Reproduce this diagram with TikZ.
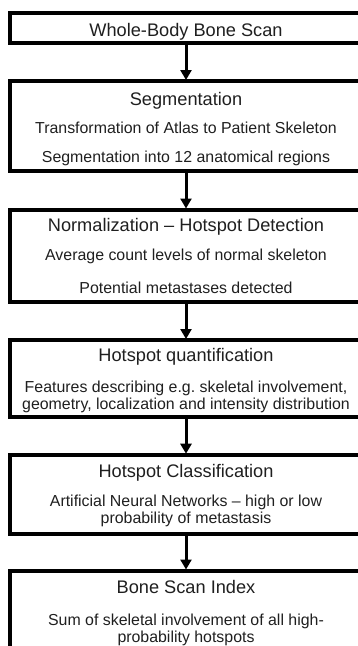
\documentclass[tikz,border=0pt]{standalone}
\usepackage{fontspec}
\setmainfont{Liberation Sans}
\usetikzlibrary{arrows.meta}
\frenchspacing
\begin{document}
\begin{tikzpicture}[x=1pt,y=-1pt,
  box/.style={draw=black,line width=4pt,minimum width=352pt,inner sep=0pt,outer sep=0pt},
  ttl/.style={anchor=base,font=\fontsize{18.2}{20}\selectfont,inner sep=0pt,text=black!88},
  txt/.style={anchor=base,font=\fontsize{15.9}{19.5}\selectfont,inner sep=0pt,text=black!88},
  arr/.style={line width=3pt,-{Triangle[length=10pt,width=11pt]},shorten >=1pt}]
\useasboundingbox (0,0) rectangle (358,646);
\clip (0,0) rectangle (358,646);
\node[box,minimum height=30.5pt] (b1) at (186,27.75) {};
\node[box,minimum height=89.5pt] (b2) at (186,125.75) {};
\node[box,minimum height=92.5pt] (b3) at (186,255.75) {};
\node[box,minimum height=77pt] (b4) at (186,378.5) {};
\node[box,minimum height=79.3pt] (b5) at (186,494.35) {};
\node[box,minimum height=99.5pt] (b6) at (186,620.25) {};
\node[ttl] (t1) at (186,36) {Whole-Body Bone Scan};
\node[ttl] (t2) at (186,105) {Segmentation};
\node[txt] (t2a) at (186,133) {Transformation of Atlas to Patient Skeleton};
\node[txt] (t2b) at (186,162) {Segmentation into 12 anatomical regions};
\node[ttl] (t3) at (186,231) {Normalization – Hotspot Detection};
\node[txt] (t3a) at (186,260) {Average count levels of normal skeleton};
\node[txt] (t3b) at (186,293) {Potential metastases detected};
\node[ttl] (t4) at (186,361) {Hotspot quantification};
\node[txt] (t4a) at (186,392) {Features describing e.g. skeletal involvement,};
\node[txt] (t4b) at (186,409.5) {geometry, localization and intensity distribution};
\node[ttl] (t5) at (186,477) {Hotspot Classification};
\node[txt] (t5a) at (186,506) {Artificial Neural Networks – high or low};
\node[txt] (t5b) at (186,523.5) {probability of metastasis};
\node[ttl] (t6) at (186,593) {Bone Scan Index};
\node[txt] (t6a) at (186,625) {Sum of skeletal involvement of all high-};
\node[txt] (t6b) at (186,642) {probability hotspots};
\draw[arr] (b1.south) -- (b2.north);
\draw[arr] (b2.south) -- (b3.north);
\draw[arr] (b3.south) -- (b4.north);
\draw[arr] (b4.south) -- (b5.north);
\draw[arr] (b5.south) -- (b6.north);
\end{tikzpicture}
\end{document}
